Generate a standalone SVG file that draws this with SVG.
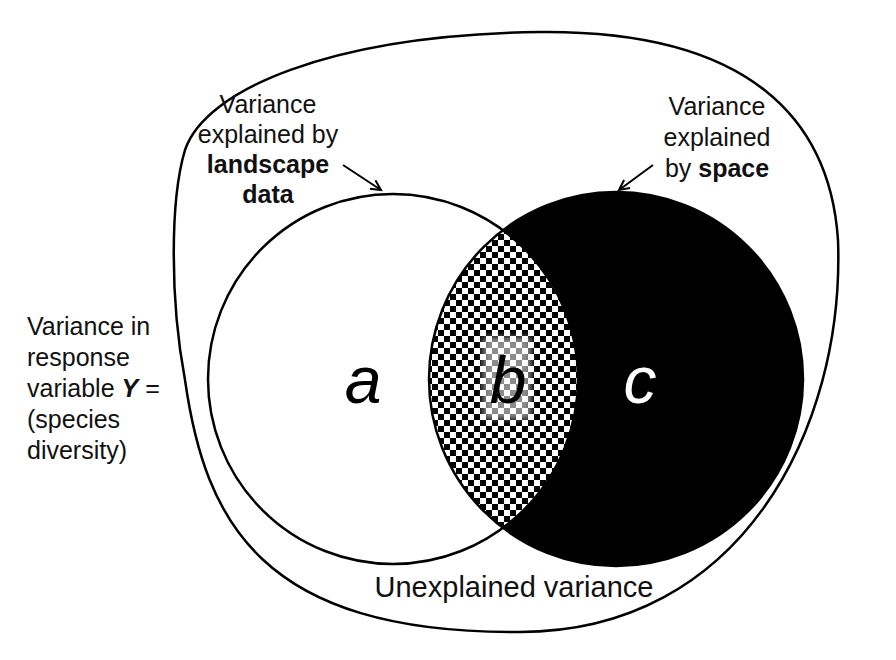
<svg xmlns="http://www.w3.org/2000/svg" width="896" height="660" viewBox="0 0 896 660">
<defs>
<style>
.lbl{font-family:"Liberation Sans",Arial,sans-serif;font-size:25px;fill:#111;}
.b{font-weight:bold;}
.big{font-family:"Liberation Sans",Arial,sans-serif;font-size:66px;font-style:italic;text-anchor:middle;}
.ln{fill:none;stroke:#000;stroke-width:2.5;}
</style>
<pattern id="chk" width="12" height="12" patternUnits="userSpaceOnUse" x="0" y="0">
<rect width="12" height="12" fill="#fff"/>
<rect width="6" height="6" fill="#000"/>
<rect x="6" y="6" width="6" height="6" fill="#000"/>
</pattern>
<clipPath id="clipA"><circle cx="393" cy="379" r="185"/></clipPath>
<filter id="soft" x="-30%" y="-30%" width="160%" height="160%"><feGaussianBlur stdDeviation="3"/></filter>
<marker id="arr" markerWidth="14" markerHeight="14" refX="11" refY="6" orient="auto" markerUnits="userSpaceOnUse">
<path d="M1,1 L11,6 L1,11" fill="none" stroke="#000" stroke-width="2"/>
</marker>
</defs>
<rect width="896" height="660" fill="#fff"/>
<g id="outer">
<path class="ln" d="M540,32 C750,30 830,120 838,240 C845,430 740,632 520,632 C260,634 205,520 185,380 C170,300 170,200 185,150 C205,90 330,35 540,32 Z"/>
</g>
<g id="circle-landscape">
<circle cx="393" cy="379" r="185" fill="#fff"/>
</g>
<g id="circle-space">
<circle cx="616" cy="379" r="187" fill="#000"/>
</g>
<g id="overlap">
<g clip-path="url(#clipA)">
<circle cx="616" cy="379" r="187" fill="url(#chk)"/>
<rect x="483" y="337" width="48" height="82" fill="#fff" fill-opacity="0.55" filter="url(#soft)"/>
</g>
</g>
<g id="outlines">
<circle class="ln" cx="393" cy="379" r="185"/>
<circle class="ln" cx="616" cy="379" r="187"/>
</g>
<g id="letters">
<text class="big" x="363" y="403" fill="#000">a</text>
<text class="big" x="508" y="403" fill="#000">b</text>
<text class="big" x="640" y="403" fill="#fff">c</text>
</g>
<g id="label-landscape">
<text class="lbl" text-anchor="middle" x="268" y="113">Variance</text>
<text class="lbl" text-anchor="middle" x="268" y="143">explained by</text>
<text class="lbl b" text-anchor="middle" x="268" y="173">landscape</text>
<text class="lbl b" text-anchor="middle" x="268" y="203">data</text>
</g>
<g id="label-space">
<text class="lbl" text-anchor="middle" x="717" y="115">Variance</text>
<text class="lbl" text-anchor="middle" x="717" y="146">explained</text>
<text class="lbl" text-anchor="middle" x="717" y="177">by <tspan class="b">space</tspan></text>
</g>
<g id="label-y">
<text class="lbl" x="27" y="335">Variance in</text>
<text class="lbl" x="27" y="366">response</text>
<text class="lbl" x="27" y="397">variable <tspan class="b" font-style="italic">Y</tspan> =</text>
<text class="lbl" x="27" y="428">(species</text>
<text class="lbl" x="27" y="459">diversity)</text>
</g>
<g id="label-unexplained">
<text class="lbl" text-anchor="middle" x="514" y="597" style="font-size:29px">Unexplained variance</text>
</g>
<g id="connectors">
<line x1="343" y1="165" x2="381" y2="190" stroke="#000" stroke-width="2" marker-end="url(#arr)"/>
<line x1="653" y1="165" x2="619" y2="190" stroke="#000" stroke-width="2" marker-end="url(#arr)"/>
</g>
</svg>
